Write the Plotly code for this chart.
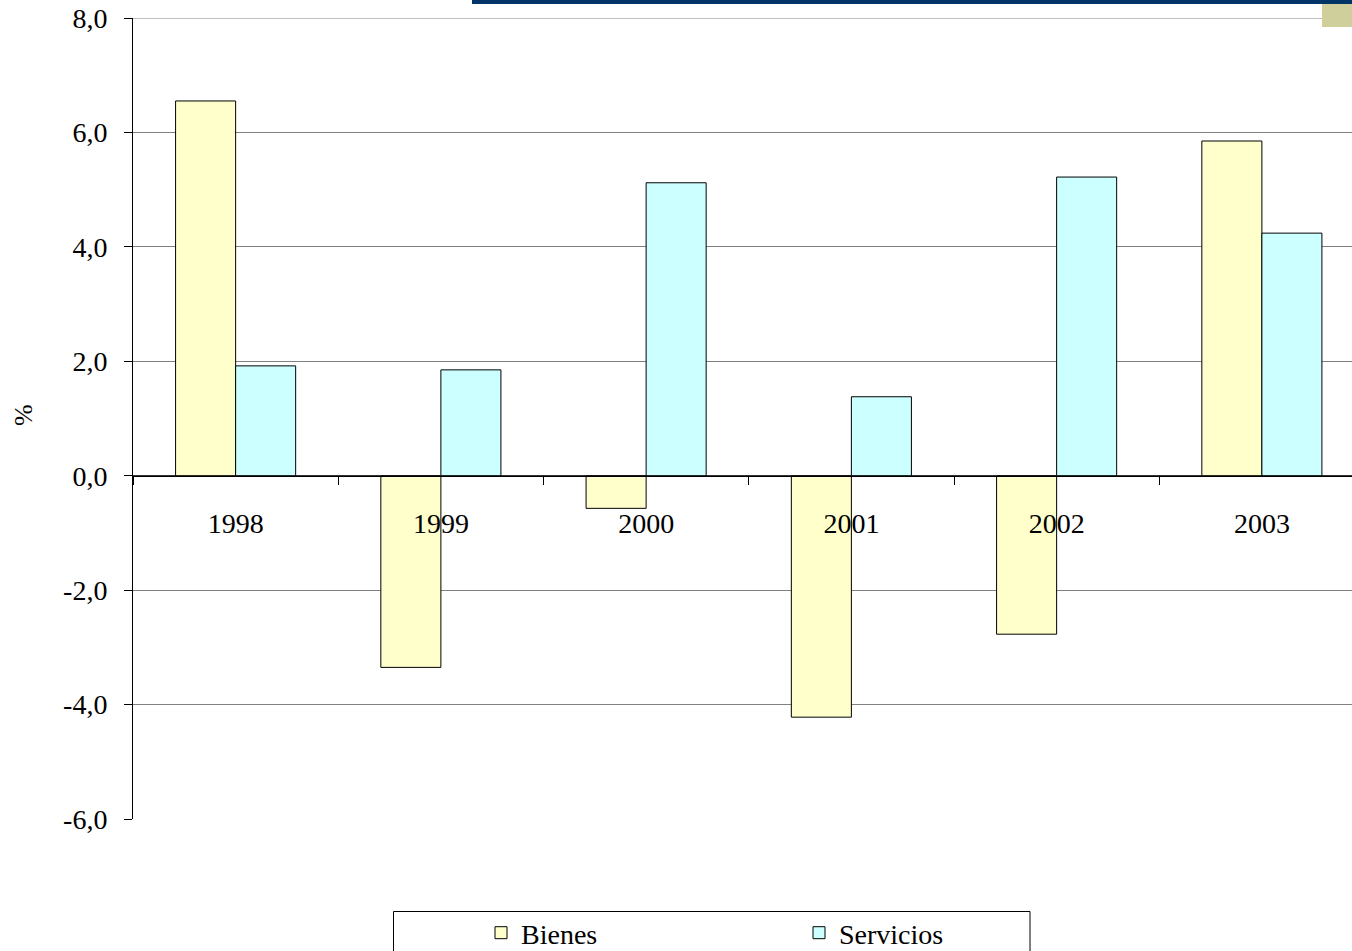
import plotly.graph_objects as go

years = ["1998", "1999", "2000", "2001", "2002", "2003"]
bienes = [6.55, -3.35, -0.57, -4.22, -2.77, 5.85]
servicios = [1.92, 1.85, 5.12, 1.38, 5.22, 4.24]
y_tickvals = [-6, -4, -2, 0, 2, 4, 6, 8]
y_ticktext = ["-6,0", "-4,0", "-2,0", "0,0", "2,0", "4,0", "6,0", "8,0"]
y_title = "%"

W, H = 1352, 951
ML, MT, MB, MR = 133, 18, 132, 0
plot_w = W - ML - MR
plot_h = H - MT - MB
cat_w = 205.25
FONT = "Liberation Serif, Times New Roman, serif"

fig = go.Figure()
fig.add_trace(go.Bar(x=years, y=bienes, name="Bienes",
                     marker=dict(color="#FFFFCC", line=dict(color="#000000", width=1))))
fig.add_trace(go.Bar(x=years, y=servicios, name="Servicios",
                     marker=dict(color="#CCFFFF", line=dict(color="#000000", width=1))))

def px_x(p):
    return (p - ML) / plot_w

def px_y(p):
    return (H - MB - p) / plot_h

# top gridline at the axis maximum
fig.add_shape(type="line", xref="paper", yref="y", x0=0, x1=1,
              y0=y_tickvals[-1], y1=y_tickvals[-1],
              line=dict(color="#808080", width=1), layer="below")
# decorative header band and square (slide artefacts)
fig.add_shape(type="rect", xref="paper", yref="paper",
              x0=px_x(472), x1=px_x(1352), y0=px_y(4), y1=px_y(-2),
              fillcolor="#003366", line=dict(width=0), layer="above")
fig.add_shape(type="rect", xref="paper", yref="paper",
              x0=px_x(1322), x1=px_x(1352), y0=px_y(27), y1=px_y(4),
              fillcolor="#CFCF9C", line=dict(width=0), layer="above")
# legend frame
fig.add_shape(type="rect", xref="paper", yref="paper",
              x0=px_x(393.5), x1=px_x(1030), y0=px_y(960), y1=px_y(911.5),
              fillcolor="rgba(0,0,0,0)", line=dict(color="#000000", width=1))

# y-axis title
fig.add_annotation(text=y_title, xref="paper", yref="paper",
                   x=px_x(23), y=px_y(415), xanchor="center", yanchor="middle",
                   textangle=-90, showarrow=False,
                   font=dict(family=FONT, size=26, color="#000000"))

fig.update_layout(
    width=W, height=H,
    margin=dict(l=ML, r=MR, t=MT, b=MB, autoexpand=False),
    paper_bgcolor="white", plot_bgcolor="white",
    font=dict(family=FONT, size=28, color="#000000"),
    barmode="group", bargap=0.415, bargroupgap=0,
    showlegend=True,
    legend=dict(orientation="h", x=px_x(481), xanchor="left",
                y=px_y(908), yanchor="top",
                entrywidth=273, entrywidthmode="pixels",
                font=dict(family=FONT, size=28),
                bgcolor="rgba(0,0,0,0)", borderwidth=0,
                traceorder="normal"),
    xaxis=dict(type="category", range=[-0.5, -0.5 + plot_w / cat_w],
               anchor="free", position=6 / 14, automargin=False,
               showline=True, linecolor="#000000", linewidth=1,
               ticks="outside", ticklen=8, tickcolor="#000000",
               tickson="boundaries", ticklabelstandoff=23,
               showgrid=False, zeroline=False,
               tickfont=dict(family=FONT, size=28)),
    yaxis=dict(range=[-6, 8], tickmode="array", tickvals=y_tickvals, ticktext=y_ticktext,
               automargin=False,
               showline=True, linecolor="#000000", linewidth=1,
               ticks="outside", ticklen=8, tickcolor="#000000",
               ticklabelstandoff=11,
               showgrid=True, gridcolor="#808080", gridwidth=1,
               zeroline=True, zerolinecolor="#333333", zerolinewidth=1,
               tickfont=dict(family=FONT, size=28)),
)

fig.write_html("out.html", config={"displayModeBar": False},
               post_script="document.body.style.margin='0';")
